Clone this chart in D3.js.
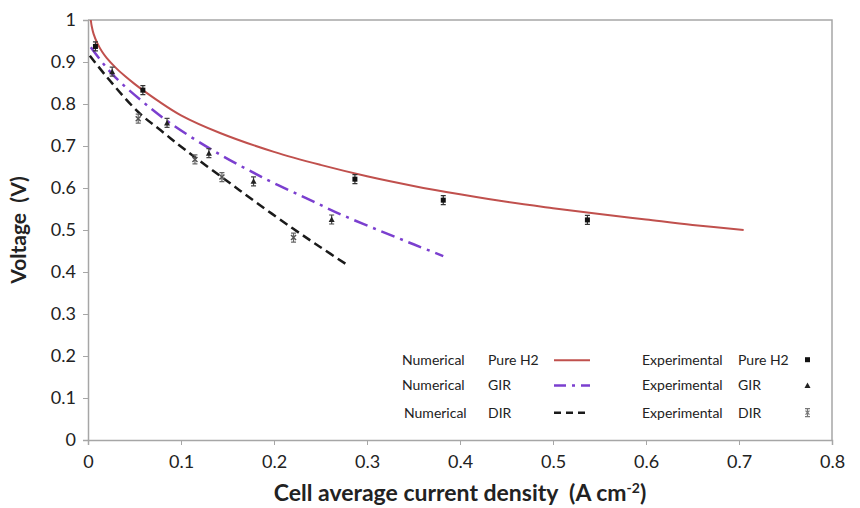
<!DOCTYPE html>
<meta charset="utf-8">
<style>
body { margin: 0; background: #fff; }
text { font-family: Lato, "Open Sans", sans-serif; }
.tick text { font-size: 18px; fill: #222; }
.line { fill: none; }
</style>
<svg width="860" height="508"></svg>
<script src="https://d3js.org/d3.v7.min.js"></script>
<script>

// numerical curves: [current density, voltage]
var numH2 = [[0.003,1.0],[0.004,0.985],[0.006,0.967],[0.01,0.945],[0.015,0.925],[0.02,0.91],[0.03,0.886],
  [0.04,0.866],[0.05,0.848],[0.059,0.833],[0.075,0.808],[0.1,0.773],[0.142,0.731],[0.2,0.686],[0.25,0.655],
  [0.3,0.628],[0.35,0.605],[0.4,0.585],[0.45,0.567],[0.5,0.552],[0.55,0.538],[0.6,0.525],[0.65,0.512],[0.705,0.5]];
var numGIR = [[0.003,0.935],[0.015,0.9],[0.03,0.862],[0.059,0.805],[0.088,0.755],[0.134,0.69],[0.187,0.626],
  [0.242,0.568],[0.274,0.535],[0.314,0.498],[0.35,0.466],[0.382,0.438]];
var numDIR = [[0.002,0.915],[0.02,0.865],[0.054,0.781],[0.08,0.734],[0.105,0.69],[0.145,0.624],[0.18,0.567],
  [0.22,0.504],[0.25,0.459],[0.278,0.418]];

// experimental points
var expH2 = [[0.008,0.937],[0.059,0.833],[0.287,0.621],[0.382,0.571],[0.537,0.524]];
var expGIR = [[0.026,0.877],[0.085,0.755],[0.13,0.683],[0.178,0.616],[0.262,0.525]];
var expDIR = [[0.054,0.765],[0.115,0.668],[0.144,0.626],[0.221,0.482]];

var xTicks = [0, 0.1, 0.2, 0.3, 0.4, 0.5, 0.6, 0.7, 0.8];
var yTicks = [0, 0.1, 0.2, 0.3, 0.4, 0.5, 0.6, 0.7, 0.8, 0.9, 1];

var svg = d3.select("svg"),
    margin = {top: 20, right: 28, bottom: 68, left: 88},
    width = +svg.attr("width") - margin.left - margin.right,
    height = +svg.attr("height") - margin.top - margin.bottom,
    g = svg.append("g").attr("transform", "translate(" + margin.left + "," + margin.top + ")");

var x = d3.scaleLinear().domain([0, 0.8]).range([0, width]);
var y = d3.scaleLinear().domain([0, 1]).range([height, 0]);

// plot frame (top and right)
g.append("path")
  .attr("d", "M0,0H" + width + "V" + height)
  .attr("fill", "none")
  .attr("stroke", "#a6a6a6")
  .attr("stroke-width", 1.5);

var xAxis = g.append("g")
  .attr("transform", "translate(0," + height + ")")
  .call(d3.axisBottom(x).tickValues(xTicks).tickSize(5).tickPadding(10).tickFormat(d3.format("")));
var yAxis = g.append("g")
  .call(d3.axisLeft(y).tickValues(yTicks).tickSize(5).tickPadding(7).tickFormat(d3.format("")));
[xAxis, yAxis].forEach(function(a) {
  a.select(".domain").attr("stroke", "#a6a6a6").attr("stroke-width", 1.5);
  a.selectAll(".tick line").attr("stroke", "#a6a6a6");
});

g.append("text")
  .attr("x", width / 2)
  .attr("y", height + 61)
  .attr("text-anchor", "middle")
  .style("font-size", "23px")
  .style("font-weight", "bold")
  .attr("fill", "#222")
  .html('Cell average current density&#160; (A cm<tspan dy="-8" font-size="14px">-2</tspan><tspan dy="8">)</tspan>');

g.append("text")
  .attr("transform", "translate(-62," + (y(0.50)) + ") rotate(-90)")
  .attr("text-anchor", "middle")
  .style("font-size", "21px")
  .style("font-weight", "bold")
  .attr("fill", "#222")
  .html("Voltage&#160; (V)");

var line = d3.line()
  .x(function(d) { return x(d[0]); })
  .y(function(d) { return y(d[1]); })
  .curve(d3.curveCatmullRom.alpha(0.5));

var series = [
  {data: numH2, color: "#c0504d", dash: null, w: 2},
  {data: numGIR, color: "#7b3fcf", dash: "14,6,3,6", w: 2.5},
  {data: numDIR, color: "#1a1a1a", dash: "9,5", w: 2.5}
];
g.selectAll(".line")
  .data(series)
  .enter().append("path")
  .attr("class", "line")
  .attr("d", function(d) { return line(d.data); })
  .attr("stroke", function(d) { return d.color; })
  .attr("stroke-width", function(d) { return d.w; })
  .attr("stroke-dasharray", function(d) { return d.dash; });

// error bars + markers
function drawPoints(data, shape, color) {
  var p = g.append("g").selectAll("g").data(data).enter().append("g")
    .attr("transform", function(d) { return "translate(" + x(d[0]) + "," + y(d[1]) + ")"; });
  p.append("path")
    .attr("d", "M-2.5,-4.5H2.5M0,-4.5V4.5M-2.5,4.5H2.5")
    .attr("stroke", color).attr("stroke-width", 1.2).attr("fill", "none");
  if (shape === "square") {
    p.append("rect").attr("x", -2.5).attr("y", -2.5).attr("width", 5).attr("height", 5).attr("fill", "#111");
  } else if (shape === "triangle") {
    p.append("path").attr("d", "M0,-3L3,2.5H-3Z").attr("fill", "#222");
  } else {
    p.append("path").attr("d", "M-2.5,-2.5L2.5,2.5M2.5,-2.5L-2.5,2.5").attr("stroke", "#555").attr("stroke-width", 1.5);
  }
}
drawPoints(expH2, "square", "#333");
drawPoints(expGIR, "triangle", "#444");
drawPoints(expDIR, "x", "#666");

// legend
var legNum = ["Pure H2", "GIR", "DIR"];
var legRowY = [y(0.19), y(0.13), y(0.065)].map(function(v) { return v + margin.top; });
var leg = svg.append("g").style("font-size", "14px").attr("fill", "#222");
legNum.forEach(function(name, i) {
  var yy = legRowY[i] + 5;
  leg.append("text").attr("x", i === 2 ? 404 : 402).attr("y", yy).text("Numerical");
  leg.append("text").attr("x", 488).attr("y", yy).text(name);
  leg.append("line")
    .attr("x1", 554).attr("x2", 590).attr("y1", legRowY[i]).attr("y2", legRowY[i])
    .attr("stroke", series[i].color).attr("stroke-width", series[i].w)
    .attr("stroke-dasharray", i === 1 ? "12,6,3,6" : (i === 2 ? "7,5" : null));
  leg.append("text").attr("x", 642).attr("y", yy).text("Experimental");
  leg.append("text").attr("x", 738).attr("y", yy).text(name);
});
var lm = leg.append("g");
lm.append("rect").attr("x", 805).attr("y", legRowY[0] - 3).attr("width", 5).attr("height", 5).attr("fill", "#111");
lm.append("path").attr("d", "M807.5," + (legRowY[1] - 3) + "l3,5.5h-6z").attr("fill", "#222");
lm.append("path").attr("d", "M805," + (legRowY[2] - 4) + "h5M807.5," + (legRowY[2] - 4) + "v8M805," + (legRowY[2] + 4) + "h5")
  .attr("stroke", "#777").attr("stroke-width", 1.2);
lm.append("path").attr("d", "M805.5," + (legRowY[2] - 2) + "l4,4M809.5," + (legRowY[2] - 2) + "l-4,4")
  .attr("stroke", "#777").attr("stroke-width", 1.2);

</script>
